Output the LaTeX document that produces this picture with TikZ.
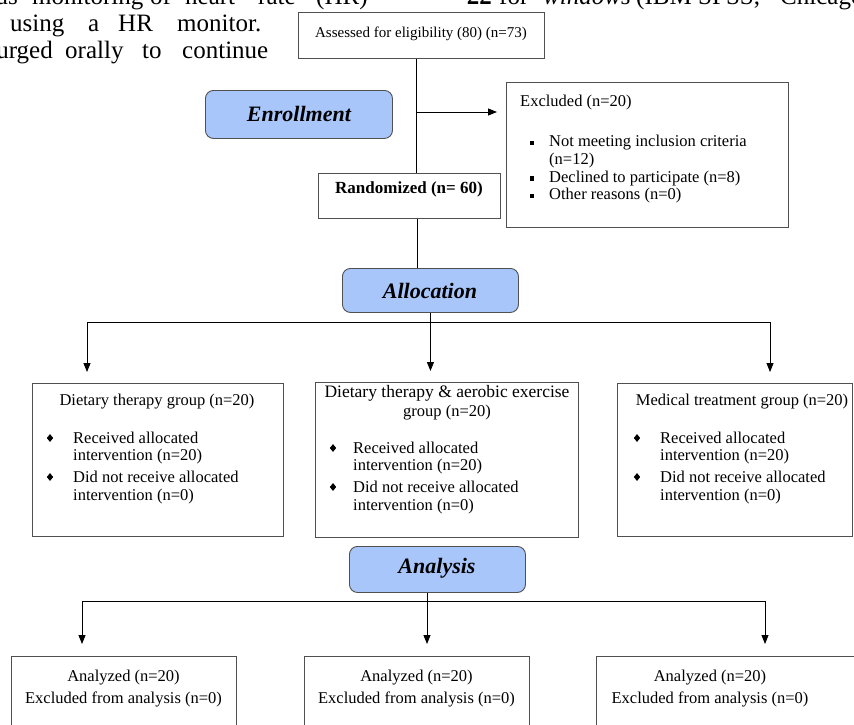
\documentclass[tikz,border=0pt]{standalone}
\usepackage{fontspec}
\setmainfont{Liberation Serif}
\newfontfamily\dejavu{DejaVu Sans}
\usetikzlibrary{arrows.meta,shapes.geometric}
\definecolor{hdrblue}{RGB}{168,198,250}
\definecolor{boxline}{RGB}{80,80,80}
\begin{document}
\begin{tikzpicture}[x=1pt,y=-1pt,
  frame/.style={draw=boxline, line width=0.9pt, inner sep=0pt, anchor=north west},
  hdr/.style={draw=boxline, fill=hdrblue, rounded corners=8pt, line width=0.9pt, inner sep=0pt, anchor=north west},
  hdrtxt/.style={inner sep=0pt, font=\fontsize{22}{24}\selectfont\bfseries\itshape},
  txt/.style={inner sep=0pt, font=\fontsize{16.5}{19.5}\selectfont},
  ltxt/.style={txt, anchor=west},
  body/.style={inner sep=0pt, anchor=base west, font=\fontsize{25}{27}\selectfont},
  bodye/.style={body, anchor=base east},
  dia/.style={shape=diamond, fill=black, inner sep=0pt, minimum width=6.5pt, minimum height=8pt},
  sq/.style={fill=black, inner sep=0pt, minimum size=4.5pt},
  conn/.style={draw=black, line width=0.8pt},
  arr/.style={conn, -{Triangle[length=9pt,width=7pt]}},
]
\useasboundingbox (0,0) rectangle (854,725);
\clip (0,0) rectangle (854,725);

% surrounding page text
\node[bodye] (w1) at (18,5) {us};
\node[body] (w2) at (32,5) {monitoring};
\node[body] (w3) at (150,5) {of};
\node[body] (w4) at (185,5) {heart};
\node[body] (w5) at (258,5) {rate};
\node[body] (w6) at (316,5) {(HR)};
\node[body] (w7) at (10,32) {using};
\node[body] (w8) at (88,32) {a};
\node[body] (w9) at (118,32) {HR};
\node[body] (w10) at (177,32) {monitor.};
\node[bodye] (w11) at (53,59) {urged};
\node[body] (w12) at (65,59) {orally};
\node[body] (w13) at (142,59) {to};
\node[body] (w14) at (182,59) {continue};
\node[bodye] (r1) at (492,5) {\bfseries 22};
\node[body] (r2) at (499,5) {for};
\node[body] (r3) at (543,5) {\itshape windows};
\node[body] (r4) at (636,5) {(IBM};
\node[body] (r5) at (698,5) {SPSS,};
\node[body] (r6) at (780,5) {Chicago};

% enrollment
\node[frame, minimum width=246, minimum height=46] (ass) at (298,12) {};
\node[txt, font=\fontsize{15}{18}\selectfont] (asst) at (421,34) {Assessed for eligibility (80) (n=73)};
\node[hdr, minimum width=187, minimum height=48] (enr) at (205,90) {};
\node[hdrtxt] (enrt) at (enr.center) {Enrollment};
\node[frame, minimum width=282, minimum height=145] (exc) at (506,82) {};
\node[ltxt] (exc0) at (520,103) {Excluded (n=20)};
\node[sq] (exs1) at (532,143) {};
\node[ltxt] (exc1) at (549,143) {Not meeting inclusion criteria};
\node[ltxt] (exc2) at (549,160.5) {(n=12)};
\node[sq] (exs2) at (532,178.5) {};
\node[ltxt] (exc3) at (549,178.5) {Declined to participate (n=8)};
\node[sq] (exs3) at (532,196) {};
\node[ltxt] (exc4) at (549,196) {Other reasons (n=0)};
\node[frame, minimum width=182, minimum height=45] (rnd) at (318,173) {};
\node[txt, font=\fontsize{17}{20}\selectfont\bfseries] (rndt) at (409,189) {Randomized (n= 60)};

\coordinate (b1) at (416,112);
\draw[conn] ([xshift=-5pt]ass.south) -- ([xshift=7pt]rnd.north);
\draw[arr, shorten >=9pt] (b1) -- (b1 -| exc.west);

% allocation
\node[hdr, minimum width=176, minimum height=44] (alloc) at (342,268) {};
\node[hdrtxt] (alloct) at (430,291) {Allocation};
\draw[conn] ([xshift=8pt]rnd.south) -- ([xshift=-13pt]alloc.north);

\node[frame, minimum width=251, minimum height=153] (g1) at (32,383) {};
\node[txt] (g1t) at (157,402) {Dietary therapy group (n=20)};
\node[dia] (g1p) at (50,438) {};
\node[ltxt] (g1a) at (73,438) {Received allocated};
\node[ltxt] (g1b) at (73,457) {intervention (n=20)};
\node[dia] (g1q) at (50,477) {};
\node[ltxt] (g1c) at (73,477) {Did not receive allocated};
\node[ltxt] (g1d) at (73,497) {intervention (n=0)};

\node[frame, minimum width=263, minimum height=155] (g2) at (315,382) {};
\node[txt, font=\fontsize{17.5}{20}\selectfont] (g2t) at (447,393) {Dietary therapy \& aerobic exercise};
\node[txt] (g2u) at (447,413) {group (n=20)};
\node[dia] (g2p) at (333,448) {};
\node[ltxt] (g2a) at (353,448) {Received allocated};
\node[ltxt] (g2b) at (353,467) {intervention (n=20)};
\node[dia] (g2q) at (333,487) {};
\node[ltxt] (g2c) at (353,487) {Did not receive allocated};
\node[ltxt] (g2d) at (353,507) {intervention (n=0)};

\node[frame, minimum width=235, minimum height=153] (g3) at (617,383) {};
\node[txt] (g3t) at (742,402) {Medical treatment group (n=20)};
\node[dia] (g3p) at (637,438) {};
\node[ltxt] (g3a) at (660,438) {Received allocated};
\node[ltxt] (g3b) at (660,457) {intervention (n=20)};
\node[dia] (g3q) at (637,477) {};
\node[ltxt] (g3c) at (660,477) {Did not receive allocated};
\node[ltxt] (g3d) at (660,497) {intervention (n=0)};

\coordinate (al) at (87,322);
\coordinate (ar) at (770,322);
\draw[conn] (al) -- (ar);
\draw[arr, shorten >=11pt] (alloc.south) -- (alloc.south |- g2.north);
\draw[arr, shorten >=11pt] (al) -- (al |- g1.north);
\draw[arr, shorten >=11pt] (ar) -- (ar |- g3.north);

% analysis
\node[hdr, minimum width=176, minimum height=46] (ana) at (349,546) {};
\node[hdrtxt] (anat) at (437,568) {Analysis};

\node[frame, minimum width=225, minimum height=90] (a1) at (11,656) {};
\node[txt] (a1t) at (123.5,678) {Analyzed (n=20)};
\node[txt] (a1u) at (123.5,699) {Excluded from analysis (n=0)};
\node[frame, minimum width=225, minimum height=90] (a2) at (304,656) {};
\node[txt] (a2t) at (416.5,678) {Analyzed (n=20)};
\node[txt] (a2u) at (416.5,699) {Excluded from analysis (n=0)};
\node[frame, minimum width=270, minimum height=90] (a3) at (596,656) {};
\node[txt] (a3t) at (710,678) {Analyzed (n=20)};
\node[txt] (a3u) at (710,699) {Excluded from analysis (n=0)};

\coordinate (bl) at (82,601);
\coordinate (bm) at (427,601);
\coordinate (br) at (765,601);
\draw[conn] (ana.south -| bm) -- (bm);
\draw[conn] (bl) -- (br);
\draw[arr, shorten >=12pt] (bl) -- (bl |- a1.north);
\draw[arr, shorten >=12pt] (bm) -- (bm |- a2.north);
\draw[arr, shorten >=12pt] (br) -- (br |- a3.north);
\end{tikzpicture}
\end{document}
